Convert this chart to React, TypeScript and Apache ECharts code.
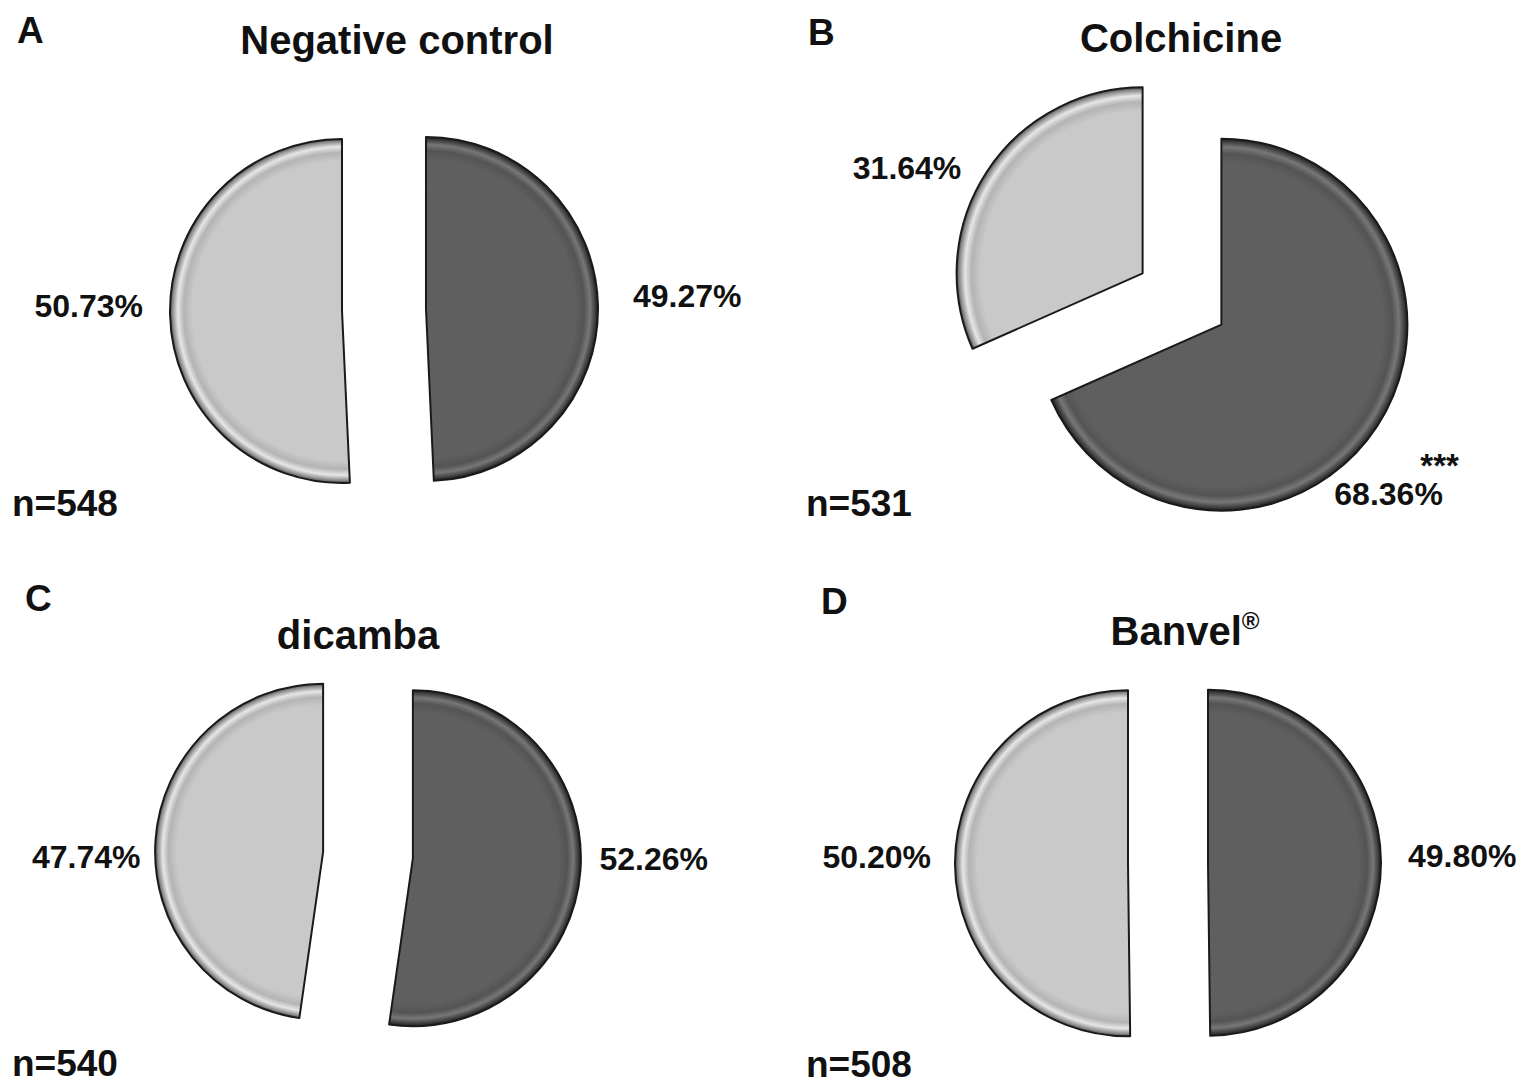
import React, { useEffect, useRef } from "react";
import * as echarts from "echarts";

// ---- data ----
const panelLetters = ["A", "B", "C", "D"];
const panelTitles = ["Negative control", "Colchicine", "dicamba", "Banvel"];
const titleSuffix = ["", "", "", "®"];
const sampleSizes = [548, 531, 540, 508];
const darkShares = [49.27, 68.36, 52.26, 49.8];
const lightShares = [50.73, 31.64, 47.74, 50.2];
const significance = ["", "***", "", ""];

// ---- layout / style ----
const pieLayout = [
  { cx: 384, cy: 310, r: 172, offset: 42 },
  { cx: 1182, cy: 299, r: 186, offset: 47 },
  { cx: 368, cy: 855, r: 168, offset: 45 },
  { cx: 1168, cy: 863, r: 173, offset: 40 },
];
// label placement per panel: [dark, light]
const labelPlace = [
  [{ len: 30, dx: 0, dy: -8 }, { len: 22, dx: 0, dy: -9 }],
  [{ len: 0, dx: -48, dy: 56 }, { len: 10, len2: 12, dx: 0, dy: 2 }],
  [{ len: 14, dx: 0, dy: -12 }, { len: 10, dx: 0, dy: 18 }],
  [{ len: 22, dx: 0, dy: -6 }, { len: 19, dx: 0, dy: -7 }],
];
const titlePos = [
  [397, 40],
  [1181, 38],
  [358, 635],
  [1185, 631],
];
const letterPos = [
  [17, 30],
  [808, 32],
  [25, 598],
  [821, 601],
];
const nPos = [
  [12, 503],
  [806, 503],
  [12, 1063],
  [806, 1064],
];

const FONT = "'Liberation Sans', Arial, Helvetica, sans-serif";
const LIGHT = "#c9c9c9";
const DARK = "#5f5f5f";

function bevel(cx: number, cy: number, r: number, base: string, dark: boolean) {
  const stops = dark
    ? [
        [0, base],
        [0.87, base],
        [0.92, "#545454"],
        [0.955, "#777777"],
        [0.985, "#3c3c3c"],
        [1, "#1e1e1e"],
      ]
    : [
        [0, base],
        [0.87, base],
        [0.92, "#b4b4b4"],
        [0.955, "#e6e6e6"],
        [0.985, "#8c8c8c"],
        [1, "#4a4a4a"],
      ];
  return {
    type: "radial",
    x: cx,
    y: cy,
    r: r,
    global: true,
    colorStops: stops.map((s) => ({ offset: s[0] as number, color: s[1] as string })),
  };
}

export default function App() {
  const ref = useRef<HTMLDivElement>(null);
  useEffect(() => {
    if (!ref.current) return;
    const chart = echarts.init(ref.current, null, { renderer: "svg" });

    const series = pieLayout.map((p, i) => ({
      type: "pie",
      center: [p.cx, p.cy],
      radius: [0, p.r],
      startAngle: 90,
      clockwise: true,
      selectedMode: "multiple",
      selectedOffset: p.offset,
      avoidLabelOverlap: false,
      silent: true,
      emphasis: { disabled: true },
      itemStyle: { borderColor: "#1a1a1a", borderWidth: 2 },
      select: { itemStyle: { borderColor: "#1a1a1a", borderWidth: 2 } },
      label: {
        show: true,
        position: "outside",
        distanceToLabelLine: 5,
        fontFamily: FONT,
        fontWeight: "bold",
        fontSize: 32,
        color: "#111",
        formatter: (prm: any) => {
          const v = (prm.value as number).toFixed(2) + "%";
          const sig = prm.dataIndex === 0 ? significance[i] : "";
          return sig ? "{star|" + sig + "}\n{val|" + v + "}" : v;
        },
        rich: {
          star: { fontFamily: FONT, fontWeight: "bold", fontSize: 33, lineHeight: 24, padding: [0, 0, 0, 86], color: "#111" },
          val: { fontFamily: FONT, fontWeight: "bold", fontSize: 32, lineHeight: 34, color: "#111" },
        },
      },
      labelLine: { show: false },
      labelLayout: (prm: any) => {
        const c = labelPlace[i][prm.dataIndex];
        return { dx: c.dx, dy: c.dy };
      },
      data: [
        {
          name: "dark",
          value: darkShares[i],
          selected: true,
          itemStyle: { color: bevel(p.cx, p.cy, p.r, DARK, true) },
          labelLine: { length: labelPlace[i][0].len, length2: (labelPlace[i][0] as any).len2 || 0 },
        },
        {
          name: "light",
          value: lightShares[i],
          selected: true,
          itemStyle: { color: bevel(p.cx, p.cy, p.r, LIGHT, false) },
          labelLine: { length: labelPlace[i][1].len, length2: (labelPlace[i][1] as any).len2 || 0 },
        },
      ],
    }));

    const graphics: any[] = [];
    panelTitles.forEach((t, i) => {
      const text = titleSuffix[i] ? "{b|" + t + "}{s|" + titleSuffix[i] + "}" : t;
      graphics.push({
        type: "text",
        x: titlePos[i][0],
        y: titlePos[i][1],
        silent: true,
        style: {
          text,
          fontFamily: FONT,
          fontWeight: "bold",
          fontSize: 40,
          fill: "#111",
          align: "center",
          verticalAlign: "middle",
          textAlign: "center",
          textVerticalAlign: "middle",
          rich: {
            b: { fontFamily: FONT, fontWeight: "bold", fontSize: 40, lineHeight: 46, fill: "#111", verticalAlign: "middle" },
            s: { fontFamily: FONT, fontWeight: "bold", fontSize: 24, lineHeight: 46, fill: "#111", verticalAlign: "top" },
          },
        },
      });
    });
    panelLetters.forEach((l, i) => {
      graphics.push({
        type: "text",
        x: letterPos[i][0],
        y: letterPos[i][1],
        silent: true,
        style: {
          text: l,
          fontFamily: FONT,
          fontWeight: "bold",
          fontSize: 37,
          fill: "#111",
          align: "left",
          verticalAlign: "middle",
          textAlign: "left",
          textVerticalAlign: "middle",
        },
      });
    });
    sampleSizes.forEach((n, i) => {
      graphics.push({
        type: "text",
        x: nPos[i][0],
        y: nPos[i][1],
        silent: true,
        style: {
          text: "n=" + n,
          fontFamily: FONT,
          fontWeight: "bold",
          fontSize: 37,
          fill: "#111",
          align: "left",
          verticalAlign: "middle",
          textAlign: "left",
          textVerticalAlign: "middle",
        },
      });
    });

    chart.setOption({
      animation: false,
      backgroundColor: "#ffffff",
      series,
      graphic: graphics,
    } as any);
    return () => chart.dispose();
  }, []);

  return (
    <div
      ref={ref}
      style={{ position: "fixed", left: 0, top: 0, width: 1521, height: 1084, background: "#fff" }}
    />
  );
}
